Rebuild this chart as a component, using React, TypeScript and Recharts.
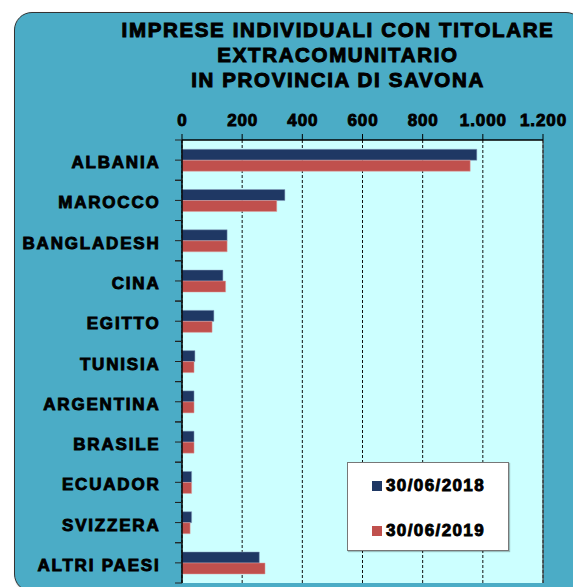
import { BarChart, Bar, XAxis, YAxis, CartesianGrid, Legend, ReferenceLine } from 'recharts'

const categories = ['ALBANIA', 'MAROCCO', 'BANGLADESH', 'CINA', 'EGITTO', 'TUNISIA', 'ARGENTINA', 'BRASILE', 'ECUADOR', 'SVIZZERA', 'ALTRI PAESI']
const values2018 = [980, 342, 150, 136, 106, 43, 40, 40, 32, 32, 257]
const values2019 = [958, 315, 150, 145, 100, 40, 40, 40, 32, 27, 276]
const xTicks = [0, 200, 400, 600, 800, 1000, 1200]
const seriesNames = ['30/06/2018', '30/06/2019']
const titleLines = ['IMPRESE INDIVIDUALI CON TITOLARE', 'EXTRACOMUNITARIO', 'IN PROVINCIA DI SAVONA']

const data = categories.map((name, i) => ({ name, a: values2018[i], b: values2019[i] }))

const FONT = '"Liberation Sans", Arial, sans-serif'
const W = 573
const H = 587
const MARGIN = { top: 100, right: 30, bottom: 4, left: 14 }
const X_AXIS_H = 40
const Y_AXIS_W = 168
const Y_TICK = 7
const Y_MARGIN = 15
const STEP = (H - MARGIN.top - X_AXIS_H - MARGIN.bottom) / categories.length

const fmt = (v: number) => String(v).replace(/\B(?=(\d{3})+(?!\d))/g, '.')

function CategoryTick({ x, y, payload }: any) {
  const axisX = x + Y_TICK + Y_MARGIN
  return (
    <g>
      <line x1={axisX - Y_TICK} x2={axisX} y1={y - STEP / 2} y2={y - STEP / 2} stroke="#222" />
      <line x1={axisX - Y_TICK} x2={axisX} y1={y + STEP / 2} y2={y + STEP / 2} stroke="#222" />
      <text x={x + 0.5} y={y} dy={8} textAnchor="end" fontFamily={FONT} fontWeight={700}
        fontSize={17} letterSpacing={1.8} fill="#000" stroke="#000" strokeWidth={0.9}>
        {payload.value}
      </text>
    </g>
  )
}

function ValueTick({ x, y, payload }: any) {
  return (
    <text x={x + 0.5} y={y} textAnchor="middle" fontFamily={FONT} fontWeight={700}
      fontSize={17} letterSpacing={0.9} fill="#000" stroke="#000" strokeWidth={0.9}>
      {fmt(payload.value)}
    </text>
  )
}

function LegendBox({ payload }: any) {
  return (
    <div style={{
      width: 162, height: 89, boxSizing: 'border-box', background: '#fff',
      border: '1.5px solid #777', boxShadow: '1px 1px 1px rgba(0,0,0,0.25)', position: 'relative',
    }}>
      {(payload || []).map((p: any, i: number) => (
        <div key={i} style={{
          position: 'absolute', left: 24, top: 12 + i * 45, height: 22, display: 'flex', alignItems: 'center',
        }}>
          <span style={{ width: 10, height: 10, background: p.color, display: 'inline-block', marginRight: 4 }} />
          <span style={{
            fontFamily: FONT, fontWeight: 700, fontSize: 17, letterSpacing: 1.4, color: '#000',
            WebkitTextStroke: '0.9px #000',
          }}>{p.value}</span>
        </div>
      ))}
    </div>
  )
}

export default function App() {
  return (
    <div style={{ position: 'absolute', left: 0, top: 0, width: W, height: H, overflow: 'hidden', background: '#fff' }}>
      <div style={{
        position: 'absolute', left: 14, top: 12, width: 570, height: 580, boxSizing: 'border-box',
        borderRadius: 18, border: '1.5px solid #333', background: '#4BACC6',
        boxShadow: '1px 1px 2px rgba(0,0,0,0.35)',
      }} />
      <div style={{
        position: 'absolute', left: 100, top: 17, width: 476, textAlign: 'center',
        fontFamily: FONT, fontWeight: 700, fontSize: 20.5, lineHeight: '25px', letterSpacing: 1.65,
        color: '#000', WebkitTextStroke: '1px #000',
      }}>
        {titleLines.map((t) => <div key={t}>{t}</div>)}
      </div>
      <div style={{ position: 'absolute', left: 0, top: 0 }}>
        <BarChart width={W} height={H} data={data} layout="vertical" margin={MARGIN}
          barCategoryGap="23%" barGap={0}>
          <CartesianGrid horizontal={false} strokeDasharray="3 2" stroke="#111" fill="#CCFFFF" fillOpacity={1} />
          <XAxis type="number" orientation="top" domain={[0, 1200]} ticks={xTicks} height={X_AXIS_H}
            interval={0} tick={<ValueTick />} tickSize={6} tickMargin={8}
            axisLine={{ stroke: '#000', strokeWidth: 1.5 }} tickLine={{ stroke: '#000' }} />
          <YAxis type="category" dataKey="name" width={Y_AXIS_W} interval={0} tick={<CategoryTick />}
            tickSize={Y_TICK} tickMargin={Y_MARGIN}
            axisLine={{ stroke: '#000', strokeWidth: 1.5 }} tickLine={{ stroke: '#222' }} />
          <ReferenceLine x={1200} stroke="#444" strokeWidth={1.2} />
          <Bar dataKey="a" name={seriesNames[0]} fill="#1F3864" stroke="#8aa0c0" strokeWidth={0.5} isAnimationActive={false} />
          <Bar dataKey="b" name={seriesNames[1]} fill="#C0504D" stroke="#e0a0a0" strokeWidth={0.5} isAnimationActive={false} />
          <Legend layout="vertical" align="center" verticalAlign="middle" content={<LegendBox />}
            wrapperStyle={{ position: 'absolute', left: 347, top: 462, width: 162, height: 89 }} />
        </BarChart>
      </div>
    </div>
  )
}
